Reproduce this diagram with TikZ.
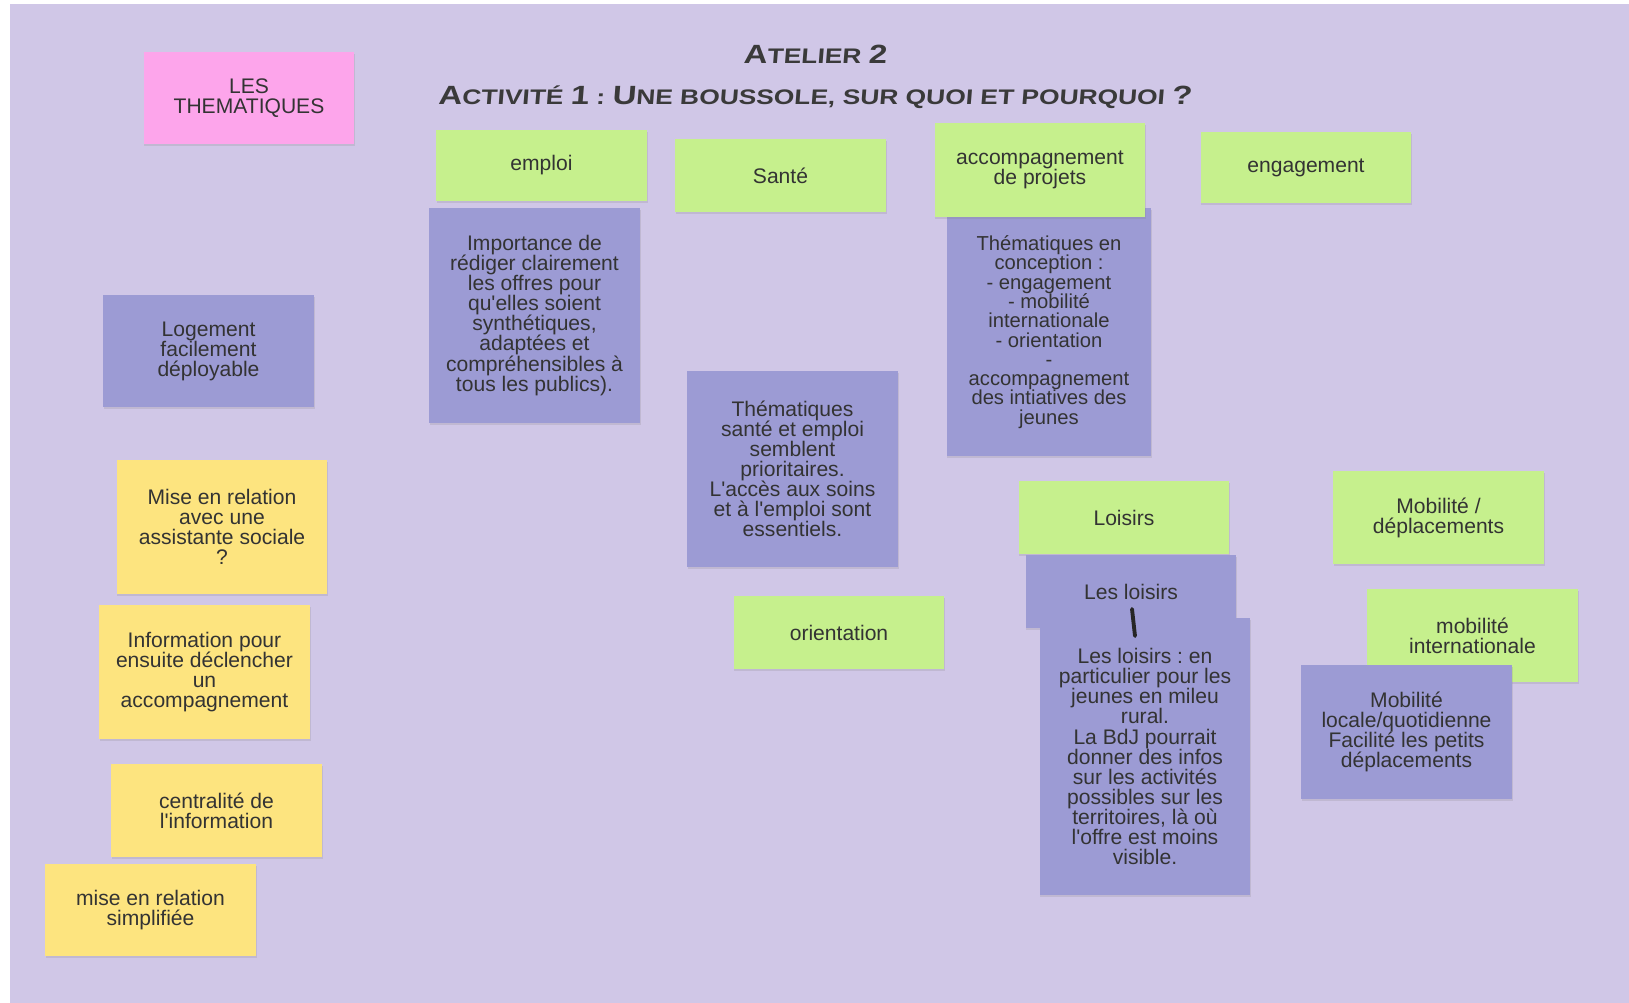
\documentclass[tikz,border=0pt]{standalone}
\usepackage{fontspec}
\setmainfont{Liberation Sans}
\newfontfamily\titlefont[FakeStretch=1.25,FakeSlant=0.08]{Liberation Sans}
\usepackage{tikz}
\usetikzlibrary{shadows}
\frenchspacing

\definecolor{boardbg}{HTML}{D0C7E7}
\definecolor{notegreen}{HTML}{C6F08D}
\definecolor{notepurple}{HTML}{9C9BD4}
\definecolor{noteyellow}{HTML}{FDE47F}
\definecolor{notepink}{HTML}{FDA5EB}
\definecolor{notetext}{HTML}{333333}
\definecolor{titlegray}{HTML}{3A3A3A}

\newcommand{\tcap}[1]{{\fontsize{15}{15}\selectfont #1}}
\newcommand{\ap}{\textquotesingle}

\begin{document}
\begin{tikzpicture}[x=0.02cm, y=-0.02cm]
\tikzset{ note/.style={rectangle, minimum width=4.22cm, inner sep=1pt, align=center,
            text=notetext, font=\fontsize{12}{11.4}\selectfont,
            drop shadow={opacity=0.2, shadow xshift=0.4pt, shadow yshift=-1.2pt}},
          greennote/.style={note, fill=notegreen},
          bluenote/.style={note, fill=notepurple},
          yellownote/.style={note, fill=noteyellow},
          pinknote/.style={note, fill=notepink},
          titletext/.style={font=\titlefont\bfseries\fontsize{12}{12}\selectfont, text=titlegray, inner sep=0pt},
          penmark/.style={line width=2.2pt, line cap=round, black!85},
}

% fond du tableau
\fill [white] (0,0) rectangle (1629,1003);
\fill [boardbg] (10,4) rectangle (1629,1003);
\useasboundingbox (0,0) rectangle (1629,1003);

% titre
\node [titletext] (atelier)  at (815,54) {\tcap{A}TELIER \tcap{2}};
\node [titletext] (activite) at (815,97) {\tcap{A}CTIVITÉ \tcap{1} : \tcap{U}NE BOUSSOLE, SUR QUOI ET POURQUOI \tcap{?}};

% colonne de gauche
\node [pinknote, minimum height=1.84cm]   (themes)   at (249,98)    {LES\\THEMATIQUES};
\node [bluenote, minimum height=2.24cm]   (logement) at (208.5,351) {Logement\\facilement\\déployable};
\node [yellownote, minimum height=2.68cm] (assist)   at (222,527)   {Mise en relation\\avec une\\assistante sociale\\?};
\node [yellownote, minimum height=2.68cm] (info)     at (204.5,672) {Information pour\\ensuite déclencher\\un\\accompagnement};
\node [yellownote, minimum height=1.86cm] (central)  at (216.5,810.5) {centralité de\\l\ap information};
\node [yellownote, minimum height=1.84cm] (simple)   at (150.5,910) {mise en relation\\simplifiée};

% emploi, santé, orientation
\node [greennote, minimum height=1.42cm] (emploi)   at (541.5,165.5) {emploi};
\node [bluenote,  minimum height=4.30cm] (offres)   at (534.5,315.5) {Importance de\\rédiger clairement\\les offres pour\\qu\ap elles soient\\synthétiques,\\adaptées et\\compréhensibles à\\tous les publics).};
\node [greennote, minimum height=1.46cm] (sante)    at (780.5,175.5) {Santé};
\node [bluenote,  minimum height=3.92cm] (priorite) at (792.5,469)   {Thématiques\\santé et emploi\\semblent\\prioritaires.\\L\ap accès aux soins\\et à l\ap emploi sont\\essentiels.};
\node [greennote, minimum height=1.46cm] (orient)   at (839,632.5)   {orientation};

% accompagnement, engagement
\node [bluenote,  minimum width=4.1cm, minimum height=4.96cm, font=\fontsize{11.5}{11}\selectfont] (concept) at (1049,332) {Thématiques en\\conception :\\- engagement\\- mobilité\\internationale\\- orientation\\-\\accompagnement\\des intiatives des\\jeunes};
\node [greennote, minimum height=1.88cm] (accomp) at (1040,170)   {accompagnement\\de projets};
\node [greennote, minimum height=1.42cm] (engage) at (1306,167.5) {engagement};

% loisirs
\node [greennote, minimum height=1.46cm] (loisirs)  at (1124,517.5) {Loisirs};
\node [bluenote,  minimum height=1.46cm] (lesloi)   at (1131,591.5) {Les loisirs};
\node [bluenote,  minimum height=5.54cm] (rural)    at (1145,756.5) {Les loisirs : en\\particulier pour les\\jeunes en mileu\\rural.\\La BdJ pourrait\\donner des infos\\sur les activités\\possibles sur les\\territoires, là où\\l\ap offre est moins\\visible.};
\coordinate (penA) at (1132,609);
\coordinate (penB) at (1135,636);
\draw [penmark] (penA) -- (penB);

% mobilité
\node [greennote, minimum height=1.86cm] (mobdep)  at (1438.5,517.5) {Mobilité /\\déplacements};
\node [greennote, minimum height=1.86cm] (mobint)  at (1472.5,635.5) {mobilité\\internationale};
\node [bluenote,  minimum height=2.68cm] (mobloc)  at (1406.5,732)   {Mobilité\\locale/quotidienne\\Facilité les petits\\déplacements};

\end{tikzpicture}
\end{document}
